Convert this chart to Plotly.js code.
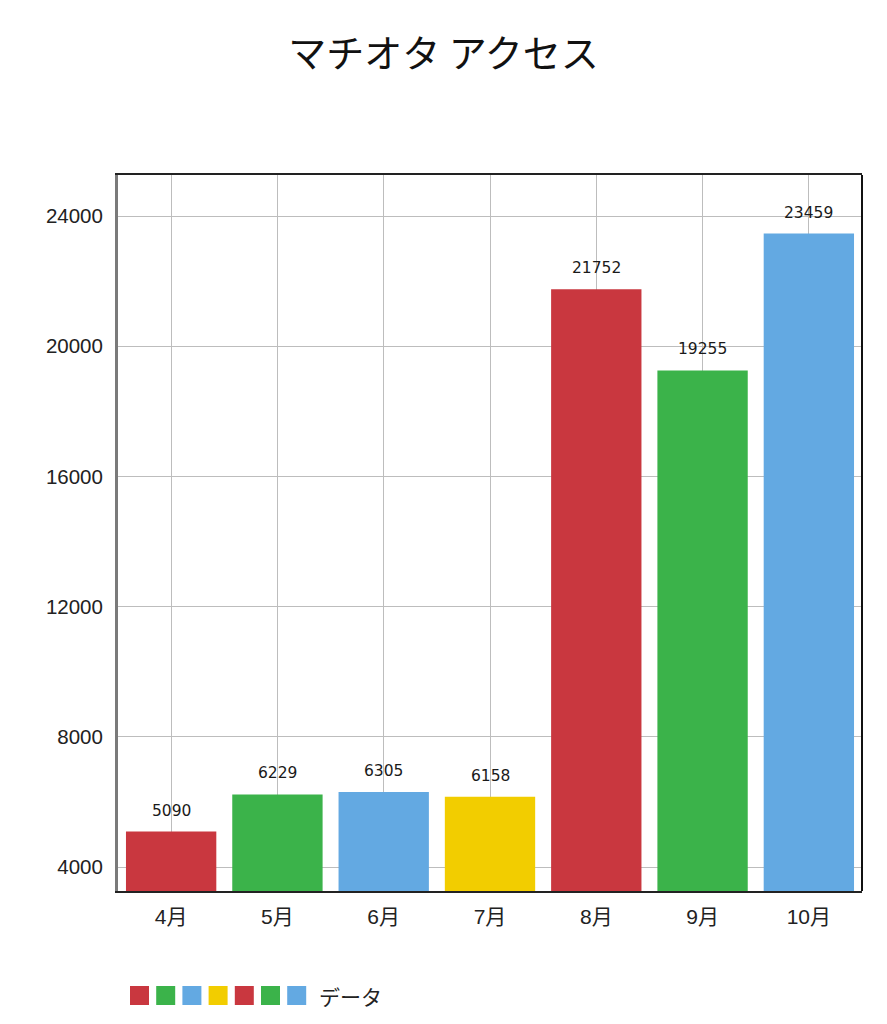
<!DOCTYPE html>
<html>
<head>
<meta charset="utf-8">
<script src="https://cdn.plot.ly/plotly-3.0.1.min.js"></script>
<style>html,body{margin:0;padding:0;background:#fff;}#chart{width:887px;height:1024px;}</style>
</head>
<body>
<div id="chart"></div>
<script>
const months = ["4月","5月","6月","7月","8月","9月","10月"];
const access = [5090, 6229, 6305, 6158, 21752, 19255, 23459];
const barColors = ["#c9373f","#3bb34a","#63a9e2","#f2cd00","#c9373f","#3bb34a","#63a9e2"];
const seriesName = "データ";
const chartTitle = "マチオタ アクセス";

const JP = '"Noto Sans CJK JP", "Noto Sans", sans-serif';
const NUM = '"Liberation Sans", "Noto Sans CJK JP", sans-serif';
const LBL = '"DejaVu Sans", "Liberation Sans", sans-serif';

const trace = {
  type: 'bar',
  x: months,
  y: access,
  width: 0.85,
  marker: {color: barColors},
  hoverinfo: 'x+y',
  showlegend: false
};

const annotations = months.map((m, i) => ({
  x: m, y: access[i], xref: 'x', yref: 'y',
  text: String(access[i]),
  showarrow: false, yanchor: 'bottom', yshift: 10,
  font: {family: LBL, size: 15.5, color: '#1a1a1a'}
}));
annotations.push({
  xref: 'paper', yref: 'paper', x: 0.268, y: -0.146,
  xanchor: 'left', yanchor: 'middle', showarrow: false,
  text: seriesName, font: {family: JP, size: 21, color: '#222'}
});

// legend swatches
const shapes = barColors.map((c, i) => {
  const x0 = 130 + i * 26.2;
  return {
    type: 'rect', xref: 'paper', yref: 'paper',
    x0: (x0 - 118) / 744, x1: (x0 + 19 - 118) / 744,
    y0: (891 - 1005) / 716, y1: (891 - 986) / 716,
    fillcolor: c, line: {width: 0}
  };
});
shapes.push({type: 'line', xref: 'paper', yref: 'paper', x0: 1, x1: 1, y0: 0, y1: 1, line: {color: '#111', width: 2}});

const layout = {
  width: 887, height: 1024,
  margin: {l: 118, r: 25, t: 175, b: 133},
  paper_bgcolor: '#fff', plot_bgcolor: '#fff',
  title: {text: chartTitle, x: 0.5, xanchor: 'center', y: 0.948, yanchor: 'middle',
          font: {family: JP, size: 38, color: '#111'}},
  xaxis: {
    type: 'category', range: [-0.5, 6.5],
    showgrid: true, gridcolor: '#bdbdbd', gridwidth: 1,
    showline: true, linecolor: '#222', linewidth: 2, mirror: true,
    ticks: '', ticklabelstandoff: 6,
    tickfont: {family: NUM, size: 21, color: '#222'},
    fixedrange: true
  },
  yaxis: {
    range: [3263, 25260], tick0: 0, dtick: 4000,
    tickformat: 'd', exponentformat: 'none', separatethousands: false,
    showgrid: true, gridcolor: '#bdbdbd', gridwidth: 1,
    zeroline: false,
    showline: true, linecolor: '#7a7a7a', linewidth: 3,
    ticks: '', ticklabelstandoff: 8,
    tickfont: {family: NUM, size: 20.5, color: '#222'},
    fixedrange: true
  },
  bargap: 0.15,
  annotations: annotations,
  shapes: shapes,
  showlegend: false
};

Plotly.newPlot('chart', [trace], layout, {displayModeBar: false, staticPlot: true});
</script>
</body>
</html>
